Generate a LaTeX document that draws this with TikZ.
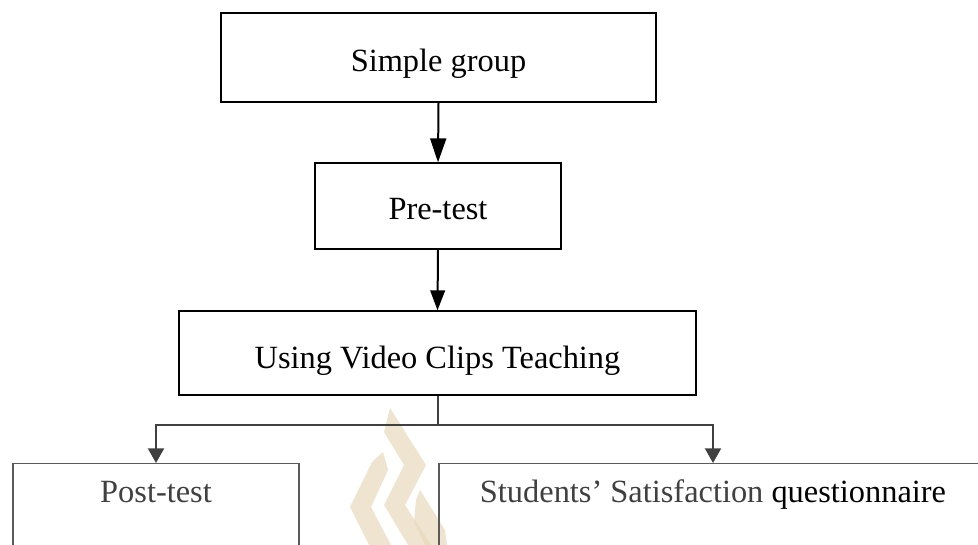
\documentclass[tikz,border=0pt]{standalone}
\usepackage{fontspec}
\setmainfont{Liberation Serif}
\usetikzlibrary{arrows.meta}
\definecolor{lowgray}{HTML}{404040}
\definecolor{edgegray}{HTML}{5A5A5A}
\definecolor{markfill}{RGB}{232,216,186}
\begin{document}
\begin{tikzpicture}[x=0.75pt,y=-0.75pt,
  every node/.style={inner sep=0pt},
  box/.style={draw=black, line width=1pt,
    font=\fontsize{24.3}{28}\selectfont, text height=21pt, text depth=0pt},
  lowbox/.style={draw=edgegray, line width=1.1pt, anchor=north,
    font=\fontsize{24.3}{28}\selectfont, text height=29.25pt, text depth=45.75pt},
  flow/.style={line width=1.5pt, -{Triangle[length=18pt,width=12pt]}},
  split/.style={draw=lowgray, line width=1.5pt, line join=miter},
  splitarrow/.style={split, -{Triangle[length=11pt,width=12pt]}},
  emblem/.style={fill=markfill, draw=none, opacity=0.7}
]
\useasboundingbox (0,0) rectangle (978,545);

% faint emblem behind the lower boxes
\fill[emblem] (390,408) -- (426,465) -- (405,505) -- (431,545) -- (408,545)
  -- (384,505) -- (404,465) -- (384,432) -- cycle;
\fill[emblem] (383,452) -- (388,470) -- (371,507) -- (391,545) -- (369,545)
  -- (350,507) -- (372,462) -- cycle;
\fill[emblem] (420,490) -- (445,530) -- (447,545) -- (425,545) -- (414,522)
  -- (416,500) -- cycle;

% main chain
\node[box, minimum width=326.25pt, minimum height=66.75pt] (sg) at (438.5,57.5) {Simple group};
\node[box, minimum width=184.5pt, minimum height=64.5pt, text height=19.7pt] (pre) at (438,206) {Pre-test};
\node[box, minimum width=387.75pt, minimum height=63pt, text height=22.5pt] (uvc) at (437.5,353) {Using Video Clips Teaching};

\draw[flow] (sg.south) -- (pre.north);
\draw[flow, -{Triangle[length=15pt,width=11pt]}] (pre.south) -- (uvc.north);

% outcome boxes (continue below the page edge)
\node[lowbox, minimum width=214.5pt, text=lowgray] (post) at (156,463) {Post-test};
\node[lowbox, minimum width=411pt] (sat) at (713,463)
  {\textcolor{lowgray}{Students’ Satisfaction} questionnaire};

% branching connector
\path (uvc.south) ++(0,29) coordinate (j);
\draw[split] (uvc.south) -- (j);
\draw[splitarrow] (j) -| (post.north);
\draw[splitarrow] (j) -| (sat.north);
\end{tikzpicture}
\end{document}
